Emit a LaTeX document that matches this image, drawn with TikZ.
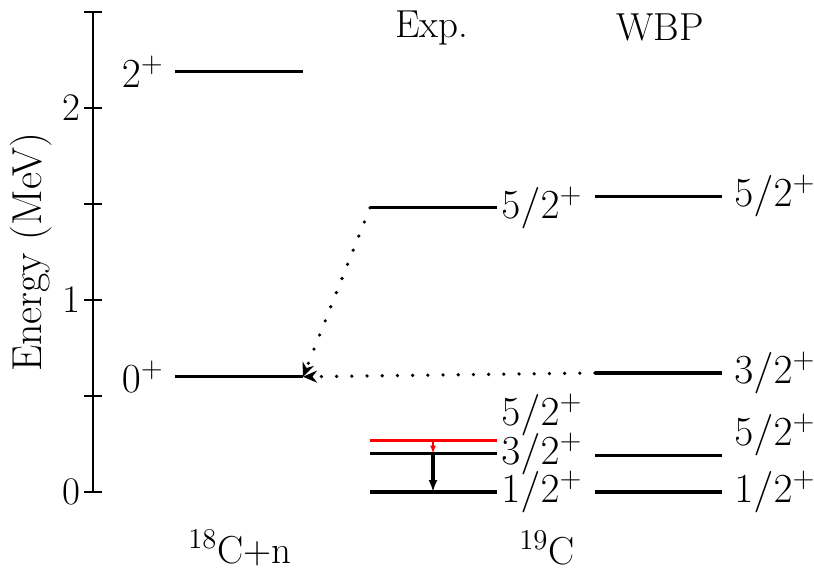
\documentclass[tikz,border=0pt]{standalone}
\usetikzlibrary{arrows.meta, positioning}
\begin{document}
\begin{tikzpicture}[
  x=0.5bp, y=96bp,
  font=\fontsize{19.6}{24}\selectfont,
  lvl/.style={line width=1.6bp},
  lvlred/.style={line width=1.6bp, draw=red},
  spin/.style={anchor=west, inner sep=2bp},
  spinleft/.style={anchor=east, inner sep=2bp},
  feed/.style={line width=1.8bp, line cap=round, dash pattern=on 0pt off 7.6bp, -{Stealth[length=7bp, width=6bp]}},
  decay/.style={line width=1.6bp, -{Latex[length=6bp, width=4.5bp]}},
  head/.style={inner sep=0pt}
]
  \useasboundingbox (0,-0.4115) rectangle (814,2.5625);

  \draw[line width=1bp] (93,0) coordinate (ax0) -- (93,2.5) coordinate (ax1);
  \foreach \e in {0,0.5,...,2.5}
    \draw[line width=1bp] (84,\e) -- (102,\e);
  \node[anchor=east, inner sep=1bp] (t0) at (83,0) {0};
  \node[anchor=east, inner sep=1bp] (t1) at (83,1) {1};
  \node[anchor=east, inner sep=1bp] (t2) at (83,2) {2};
  \node[rotate=90, font=\fontsize{21}{25}\selectfont] (elab) at (31,1.25) {Energy (MeV)};

  \node[head] (hexp) at (432,2.417) {Exp.};
  \node[head] (hwbp) at (660,2.417) {WBP};
  \node[head] (hcn) at (240,-0.29) {$^{18}$C+n};
  \node[head] (hc) at (547,-0.29) {$^{19}$C};

  \coordinate (an2l) at (175,2.19);  \coordinate (an2r) at (303,2.19);
  \coordinate (an0l) at (175,0.60);  \coordinate (an0r) at (303,0.60);
  \draw[lvl] (an2l) -- (an2r);
  \draw[lvl] (an0l) -- (an0r);
  \node[spinleft] (s2p) at (168,2.19) {$2^+$};
  \node[spinleft] (s0p) at (168,0.60) {$0^+$};

  \coordinate (ex5l) at (370,1.48);  \coordinate (ex5r) at (497,1.48);
  \coordinate (exrl) at (370,0.27);  \coordinate (exrr) at (497,0.27);
  \coordinate (ex3l) at (370,0.20);  \coordinate (ex3r) at (497,0.20);
  \coordinate (ex1l) at (370,0);     \coordinate (ex1r) at (497,0);
  \draw[lvl] (ex5l) -- (ex5r);
  \draw[lvlred] (exrl) -- (exrr);
  \draw[lvl] (ex3l) -- (ex3r);
  \draw[lvl] (ex1l) -- (ex1r);
  \node[spin] (se5) at (ex5r) {$5/2^+$};
  \node[spin] (ser) at (497,0.40) {$5/2^+$};
  \node[spin] (se3) at (ex3r) {$3/2^+$};
  \node[spin] (se1) at (ex1r) {$1/2^+$};

  \coordinate (wb5l) at (595,1.54);  \coordinate (wb5r) at (722,1.54);
  \coordinate (wb3l) at (595,0.62);  \coordinate (wb3r) at (722,0.62);
  \coordinate (wbal) at (595,0.19);  \coordinate (wbar) at (722,0.19);
  \coordinate (wb1l) at (595,0);     \coordinate (wb1r) at (722,0);
  \draw[lvl] (wb5l) -- (wb5r);
  \draw[lvl] (wb3l) -- (wb3r);
  \draw[lvl] (wbal) -- (wbar);
  \draw[lvl] (wb1l) -- (wb1r);
  \node[spin] (sw5) at (730,1.54) {$5/2^+$};
  \node[spin] (sw3) at (730,0.62) {$3/2^+$};
  \node[spin] (swa) at (730,0.30) {$5/2^+$};
  \node[spin] (sw1) at (730,0) {$1/2^+$};

  \draw[feed] (ex5l) -- (an0r);
  \draw[feed] (wb3l) -- (an0r);
  \draw[decay] (433,0.20) coordinate (d3) -- (433,0) coordinate (d1);
  \draw[lvlred, line width=0.8bp, -{Latex[length=4bp, width=3bp]}] (433,0.27) coordinate (dr) -- (d3);
\end{tikzpicture}
\end{document}
